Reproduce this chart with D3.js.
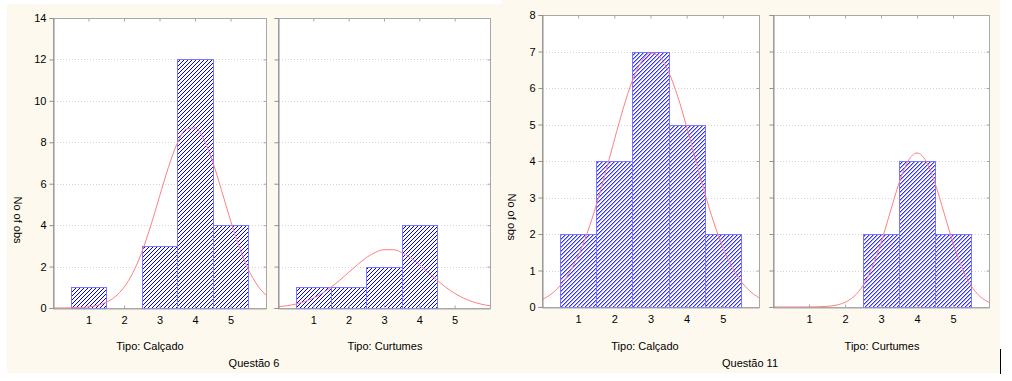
<!DOCTYPE html>
<html><head><meta charset="utf-8">
<script src="https://cdn.jsdelivr.net/npm/d3@7"></script>
<style>
html,body{margin:0;padding:0;background:#fff;}
text{font-family:"Liberation Sans",Arial,sans-serif;fill:#000;}
</style></head>
<body><svg id="c" width="1012" height="381"></svg>
<script>
// ---- data ----
const categories = [1, 2, 3, 4, 5];
const q6Calcado  = [1, 0, 3, 12, 4];
const q6Curtumes = [1, 1, 2, 4, 0];
const q11Calcado  = [2, 4, 7, 5, 2];
const q11Curtumes = [0, 0, 2, 4, 2];
const q6Ticks  = [0, 2, 4, 6, 8, 10, 12, 14];
const q11Ticks = [0, 1, 2, 3, 4, 5, 6, 7, 8];
// fitted normal curves (expected counts) read at these x positions
const fitX = [0,0.25,0.5,0.75,1,1.25,1.5,1.75,2,2.25,2.5,2.75,3,3.25,3.5,3.75,4,4.25,4.5,4.75,5,5.25,5.5,5.75,6];
const q6CalcadoFit  = [0.001,0.003,0.008,0.022,0.056,0.128,0.274,0.543,0.999,1.703,2.693,3.952,5.377,6.787,7.948,8.633,8.697,8.129,7.047,5.667,4.228,2.925,1.878,1.118,0.618];
const q6CurtumesFit = [0.060,0.109,0.187,0.307,0.478,0.709,1.000,1.345,1.721,2.095,2.430,2.681,2.817,2.817,2.681,2.430,2.095,1.721,1.345,1.000,0.709,0.478,0.307,0.187,0.109];
const q11CalcadoFit = [0.202,0.352,0.585,0.929,1.405,2.027,2.788,3.657,4.574,5.455,6.203,6.726,6.953,6.855,6.443,5.776,4.936,4.023,3.126,2.316,1.636,1.102,0.708,0.434,0.253];
const q11CurtumesFit = [0,0,0,0,0.002,0.006,0.018,0.050,0.127,0.290,0.589,1.076,1.759,2.580,3.391,3.996,4.220,3.996,3.391,2.580,1.759,1.076,0.589,0.290,0.127];
const xTitles = ["Tipo: Calçado", "Tipo: Curtumes"];
const figTitles = ["Questão 6", "Questão 11"];
const yTitle = "No of obs";

// ---- layout ----
const svg = d3.select("#c");
const defs = svg.append("defs");
function hatch(id, dark, light) {
  const p = defs.append("pattern").attr("id", id).attr("patternUnits", "userSpaceOnUse")
    .attr("width", 4).attr("height", 4);
  p.append("rect").attr("width", 4).attr("height", 4).attr("fill", "#fff");
  [[3,0],[2,1],[1,2],[0,3]].forEach(([x,y]) => p.append("rect").attr("x",x).attr("y",y).attr("width",1).attr("height",1).attr("fill",dark));
  if (light) [[0,0],[3,1],[2,2],[1,3]].forEach(([x,y]) => p.append("rect").attr("x",x).attr("y",y).attr("width",1).attr("height",1).attr("fill",light));
}
hatch("h1", "#0000f0", null);
hatch("h2", "#3030ff", "#a4a4ff");

svg.append("rect").attr("x",7).attr("y",4).attr("width",496).attr("height",369).attr("fill","#fdf9ee");
svg.append("rect").attr("x",502).attr("y",0).attr("width",498).attr("height",373).attr("fill","#fdf9ee");
svg.append("line").attr("x1",1000.5).attr("x2",1000.5).attr("y1",349).attr("y2",374).attr("stroke","#000");

const panels = [
  {x0:53, x1:266, y0:18, y1:308, ticks:q6Ticks, values:q6Calcado, fit:q6CalcadoFit, showY:true, title:xTitles[0], tx:150, pat:"h1"},
  {x0:278, x1:490, y0:18, y1:308, ticks:q6Ticks, values:q6Curtumes, fit:q6CurtumesFit, showY:false, title:xTitles[1], tx:385, pat:"h1"},
  {x0:542, x1:759, y0:15, y1:307, ticks:q11Ticks, values:q11Calcado, fit:q11CalcadoFit, showY:true, title:xTitles[0], tx:645, pat:"h2"},
  {x0:773, x1:989, y0:15, y1:307, ticks:q11Ticks, values:q11Curtumes, fit:q11CurtumesFit, showY:false, title:xTitles[1], tx:882, pat:"h2"}
];

panels.forEach(p => {
  const xs = d3.scaleLinear().domain([0, 6]).range([p.x0, p.x1]);
  const ys = d3.scaleLinear().domain([0, d3.max(p.ticks)]).range([p.y1, p.y0]);
  const g = svg.append("g");
  g.append("rect").attr("x",p.x0+0.5).attr("y",p.y0+0.5).attr("width",p.x1-p.x0).attr("height",p.y1-p.y0)
    .attr("fill","#fff").attr("stroke","#a8a8a8");
  // grid
  g.selectAll(".gl").data(p.ticks.slice(1, -1)).enter().append("line")
    .attr("x1",p.x0+1).attr("x2",p.x1).attr("y1",d=>Math.round(ys(d))+0.5).attr("y2",d=>Math.round(ys(d))+0.5)
    .attr("stroke","#d4d4d4").attr("stroke-dasharray","1,2");
  // bars
  g.selectAll(".bar").data(categories).enter().append("rect")
    .attr("x", (c) => Math.round(xs(c-0.5))+0.5)
    .attr("width", (c) => Math.round(xs(c+0.5)) - Math.round(xs(c-0.5)))
    .attr("y", (c,i) => Math.round(ys(p.values[i]))+0.5)
    .attr("height", (c,i) => Math.round(ys(0)) - Math.round(ys(p.values[i])))
    .attr("fill", `url(#${p.pat})`).attr("stroke","#7878ff").attr("stroke-width",1);
  // fitted curve
  g.append("path").datum(p.fit)
    .attr("d", d3.line().x((d,i)=>xs(fitX[i])).y(d=>ys(d)).curve(d3.curveMonotoneX))
    .attr("fill","none").attr("stroke","#ff8080").attr("stroke-width",1);
  // axes
  const ax = g.append("g").attr("transform",`translate(0,${p.y1+0.5})`)
    .call(d3.axisBottom(xs).tickValues(categories).tickSize(-3).tickPadding(8).tickFormat(d3.format("d")));
  ax.select(".domain").attr("stroke","#a8a8a8");
  ax.selectAll(".tick line").attr("stroke","#a8a8a8");
  ax.selectAll("text").attr("font-size","11px").attr("fill","#000").attr("font-family","Liberation Sans, Arial, sans-serif");
  const axTop = g.append("g").attr("transform",`translate(0,${p.y0+0.5})`)
    .call(d3.axisTop(xs).tickValues(categories).tickSize(-3).tickFormat(""));
  axTop.select(".domain").remove();
  axTop.selectAll(".tick line").attr("stroke","#a8a8a8");
  const ay = g.append("g").attr("transform",`translate(${p.x0+0.5},0)`)
    .call(d3.axisLeft(ys).tickValues(p.ticks).tickSize(4).tickPadding(3).tickFormat(p.showY ? d3.format("d") : ""));
  ay.select(".domain").attr("stroke","#909090");
  ay.selectAll(".tick line").attr("stroke","#909090");
  ay.selectAll("text").attr("font-size","11px").attr("fill","#000").attr("font-family","Liberation Sans, Arial, sans-serif");
  const ayR = g.append("g").attr("transform",`translate(${p.x1+0.5},0)`)
    .call(d3.axisRight(ys).tickValues(p.ticks).tickSize(-3).tickFormat(""));
  ayR.select(".domain").remove();
  ayR.selectAll(".tick line").attr("stroke","#a8a8a8");
  g.append("text").attr("x",p.tx).attr("y",350).attr("text-anchor","middle").attr("font-size","11px").text(p.title);
});

// y titles and figure titles
[[18,220],[512,217]].forEach(([x,y]) => {
  svg.append("text").attr("transform",`translate(${x},${y}) rotate(90)`).attr("text-anchor","middle")
    .attr("dy","0.35em").attr("font-size","11px").text(yTitle);
});
svg.append("text").attr("x",254).attr("y",367).attr("text-anchor","middle").attr("font-size","11px").text(figTitles[0]);
svg.append("text").attr("x",750).attr("y",367).attr("text-anchor","middle").attr("font-size","11px").text(figTitles[1]);
</script></body></html>
